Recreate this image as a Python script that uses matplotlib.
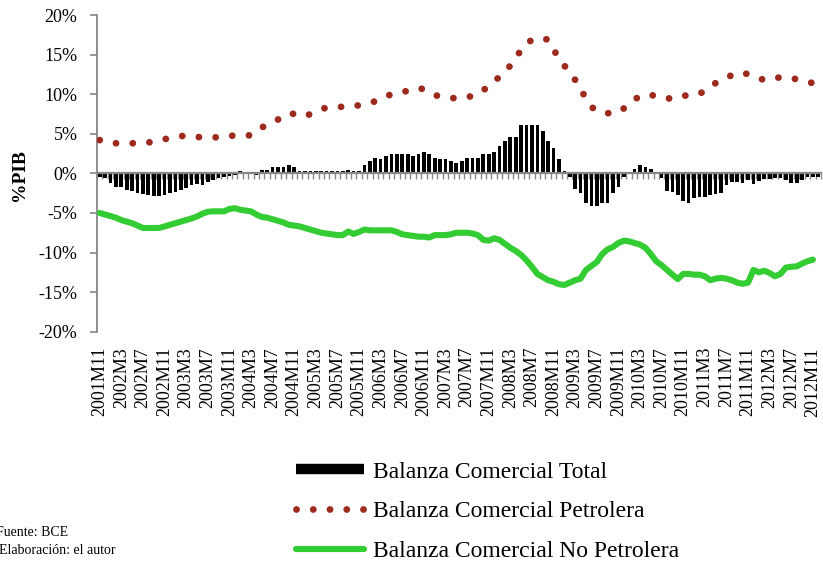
import numpy as np
import matplotlib
matplotlib.use("Agg")
import matplotlib.pyplot as plt
from matplotlib.lines import Line2D
from matplotlib.ticker import FuncFormatter, FixedLocator

plt.rcParams['font.family'] = ['Liberation Serif', 'DejaVu Serif']

# ---------------- data (% of GDP), monthly 2001M11 .. 2012M12 ----------------
tick_labels = ['2001M11', '2002M3', '2002M7', '2002M11', '2003M3', '2003M7', '2003M11',
               '2004M3', '2004M7', '2004M11', '2005M3', '2005M7', '2005M11', '2006M3',
               '2006M7', '2006M11', '2007M3', '2007M7', '2007M11', '2008M3', '2008M7',
               '2008M11', '2009M3', '2009M7', '2009M11', '2010M3', '2010M7', '2010M11',
               '2011M3', '2011M7', '2011M11', '2012M3', '2012M7', '2012M11']

balanza_total = [
    -0.4, -0.6, -1.2, -1.7, -1.7, -2.1, -2.2, -2.5, -2.6, -2.75,
    -2.85, -2.85, -2.75, -2.5, -2.3, -2.1, -1.9, -1.5, -1.3, -1.5,
    -1.05, -0.85, -0.6, -0.4, -0.3, -0.2, 0.25, -0.1, -0.1, -0.2,
    0.45, 0.45, 0.75, 0.75, 0.75, 1.0, 0.75, 0.25, 0.25, 0.25,
    0.25, 0.25, 0.25, 0.25, 0.25, 0.25, 0.45, 0.3, 0.3, 1.0,
    1.5, 2.0, 1.8, 2.25, 2.45, 2.45, 2.45, 2.45, 2.25, 2.45,
    2.65, 2.45, 2.0, 1.75, 1.75, 1.5, 1.25, 1.5, 2.0, 2.0,
    2.0, 2.45, 2.45, 2.65, 3.4, 4.1, 4.6, 4.6, 6.1, 6.1,
    6.1, 6.1, 5.35, 4.1, 3.15, 1.75, 0.25, -0.4, -2.0, -2.5,
    -3.8, -4.1, -4.1, -3.8, -3.7, -2.5, -1.75, -0.4, 0.2, 0.5,
    1.1, 0.75, 0.5, 0.2, -0.6, -2.2, -2.3, -2.7, -3.45, -3.7,
    -3.15, -2.95, -2.95, -2.7, -2.6, -2.5, -1.5, -1.05, -1.05, -1.25,
    -0.85, -1.35, -0.95, -0.75, -0.75, -0.6, -0.6, -0.85, -1.25, -1.25,
    -0.85, -0.5, -0.5, -0.4]

balanza_petrolera = [
    4.2, 4.0, 3.8, 3.8, 3.8, 3.8, 3.8, 3.8, 3.8, 3.9,
    4.0, 4.1, 4.3, 4.5, 4.6, 4.7, 4.75, 4.7, 4.6, 4.55,
    4.55, 4.55, 4.55, 4.6, 4.7, 4.8, 4.8, 4.8, 4.8, 5.3,
    5.8, 6.1, 6.5, 6.8, 7.2, 7.6, 7.5, 7.3, 7.2, 7.5,
    7.9, 8.1, 8.3, 8.4, 8.4, 8.4, 8.4, 8.5, 8.6, 8.7,
    8.9, 9.1, 9.4, 9.7, 10.0, 10.1, 10.3, 10.4, 10.6, 10.8,
    10.6, 10.2, 9.9, 9.7, 9.6, 9.5, 9.5, 9.6, 9.6, 9.8,
    10.0, 10.5, 11.0, 11.6, 12.2, 12.9, 13.6, 14.4, 15.7, 16.3,
    16.9, 17.0, 17.0, 16.9, 15.6, 14.6, 13.6, 12.8, 11.8, 10.7,
    9.4, 8.4, 7.9, 7.65, 7.6, 7.6, 7.7, 8.2, 8.8, 9.3,
    9.8, 9.85, 9.85, 9.85, 9.7, 9.5, 9.4, 9.6, 9.8, 9.85,
    9.9, 10.0, 10.5, 11.0, 11.4, 11.7, 12.1, 12.4, 12.6, 12.75,
    12.5, 12.2, 12.0, 11.8, 11.8, 12.0, 12.15, 12.1, 12.0, 11.9,
    11.7, 11.55, 11.4]

balanza_no_petrolera = [
    -5.0, -5.2, -5.4, -5.6, -5.9, -6.1, -6.3, -6.6, -6.9, -6.9,
    -6.9, -6.9, -6.7, -6.5, -6.3, -6.1, -5.9, -5.7, -5.45, -5.1,
    -4.85, -4.8, -4.8, -4.8, -4.5, -4.4, -4.6, -4.7, -4.8, -5.2,
    -5.5, -5.6, -5.8, -6.0, -6.2, -6.5, -6.6, -6.7, -6.9, -7.1,
    -7.3, -7.5, -7.6, -7.7, -7.8, -7.8, -7.35, -7.65, -7.4, -7.1,
    -7.2, -7.2, -7.2, -7.2, -7.2, -7.4, -7.7, -7.8, -7.9, -8.0,
    -8.0, -8.1, -7.8, -7.8, -7.8, -7.7, -7.5, -7.5, -7.5, -7.6,
    -7.8, -8.4, -8.5, -8.2, -8.4, -8.9, -9.4, -9.8, -10.3, -11.0,
    -11.8, -12.7, -13.1, -13.5, -13.7, -14.0, -14.1, -13.8, -13.5, -13.3,
    -12.2, -11.7, -11.2, -10.2, -9.6, -9.3, -8.8, -8.5, -8.6, -8.8,
    -9.0, -9.4, -10.2, -11.1, -11.6, -12.2, -12.8, -13.35, -12.7, -12.7,
    -12.8, -12.8, -13.0, -13.5, -13.3, -13.2, -13.3, -13.5, -13.8, -13.95,
    -13.8, -12.2, -12.5, -12.3, -12.6, -13.0, -12.7, -11.9, -11.8, -11.75,
    -11.4, -11.1, -10.9]

labels = ['Balanza Comercial Total', 'Balanza Comercial Petrolera',
          'Balanza Comercial No Petrolera']

# ---------------- styles ----------------
RED = '#9E2A1E'
GREEN = '#33CC33'
GRAY = '#868686'
dot_style = (0, (0.01, 2.45))

W, H = 823, 561
fig = plt.figure(figsize=(W / 100, H / 100), dpi=100)
ax = fig.add_axes([97 / W, 1 - 331.7 / H, (821 - 97) / W, (331.7 - 15) / H])

n = len(balanza_total)
xb = np.arange(n)
ax.bar(xb, balanza_total, width=0.68, color='black', zorder=2)
ax.plot(np.arange(len(balanza_petrolera)), balanza_petrolera, color=RED, lw=4.9,
        linestyle=dot_style, dash_capstyle='round', zorder=3)
ax.plot(np.arange(len(balanza_no_petrolera)), balanza_no_petrolera, color=GREEN, lw=4.4,
        solid_capstyle='round', solid_joinstyle='round', zorder=3)

ax.set_xlim(-0.5, n - 0.5)
ax.set_ylim(-20, 20)
ax.set_yticks(np.arange(-20, 21, 5))
ax.yaxis.set_major_formatter(FuncFormatter(lambda v, p: f'{v:.0f}%'))

for s in ['top', 'right']:
    ax.spines[s].set_visible(False)
ax.spines['left'].set_color(GRAY)
ax.spines['left'].set_linewidth(1.3)
ax.spines['bottom'].set_position(('data', 0))
ax.spines['bottom'].set_color(GRAY)
ax.spines['bottom'].set_linewidth(1.6)
ax.spines['bottom'].set_zorder(4)

ax.tick_params(axis='y', direction='out', length=5, width=1.2, color=GRAY,
               labelsize=13, pad=9)
ax.set_xticks(np.arange(0, n, 4))
ax.set_xticklabels(tick_labels, rotation=90, fontsize=13)
ax.xaxis.set_minor_locator(FixedLocator(np.arange(n + 1) - 0.5))
ax.tick_params(axis='x', which='major', length=0, pad=125)
ax.tick_params(axis='x', which='minor', direction='out', length=4, width=1.0, color=GRAY)
for t in ax.get_xticklabels():
    t.set_va('top')

fig.text(20 / W, 1 - 175 / H, '%PIB', rotation=90, fontsize=14, fontweight='bold',
         ha='center', va='center')

handles = [Line2D([], [], color='black', lw=7.5, solid_capstyle='butt'),
           Line2D([], [], color=RED, lw=4.9, linestyle=dot_style, dash_capstyle='round'),
           Line2D([], [], color=GREEN, lw=4.4, solid_capstyle='round')]
fig.legend(handles, labels, loc='upper left', bbox_to_anchor=(296 / W, 1 - 461 / H),
           frameon=False, fontsize=17, handlelength=2.9, handletextpad=0.35,
           labelspacing=0.77, borderpad=0, borderaxespad=0)

fig.text(-4 / W, 1 - 532 / H, 'Fuente: BCE', fontsize=10, va='center', ha='left')
fig.text(-1 / W, 1 - 551 / H, 'Elaboración: el autor', fontsize=10, va='center', ha='left')

fig.savefig('out.png', dpi=100)
